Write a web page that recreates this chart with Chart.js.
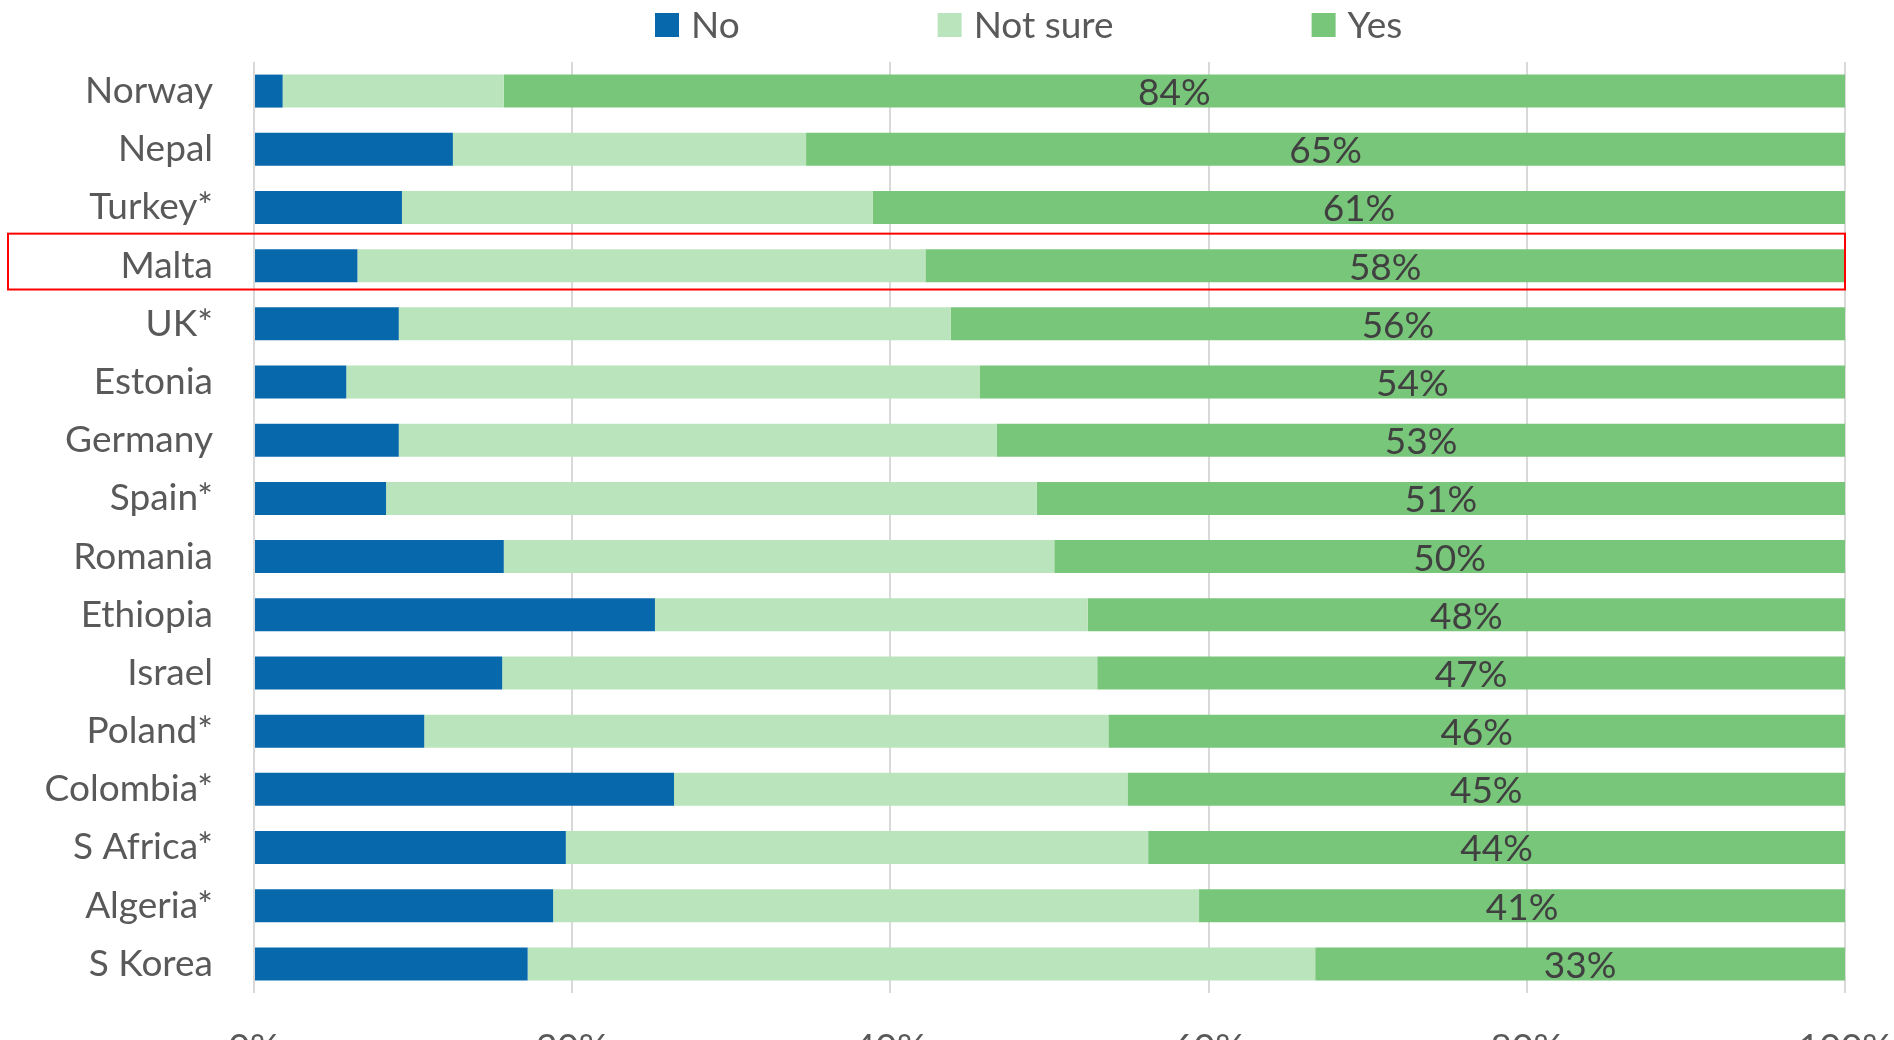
<!DOCTYPE html>
<html><head><meta charset="utf-8">
<script src="https://cdn.jsdelivr.net/npm/chart.js@4.4.0/dist/chart.umd.min.js"></script>
<style>html,body{margin:0;padding:0;overflow:hidden;background:#fff}#wrap{position:relative;width:1894px;height:1080px}</style>
</head><body><div id="wrap"><canvas id="c"></canvas></div>
<script>
const categories = ['Norway','Nepal','Turkey*','Malta','UK*','Estonia','Germany','Spain*','Romania','Ethiopia','Israel','Poland*','Colombia*','S Africa*','Algeria*','S Korea'];
const noValues = [1.8,12.5,9.3,6.5,9.1,5.8,9.1,8.3,15.7,25.2,15.6,10.7,26.4,19.6,18.8,17.2];
const notSureValues = [13.9,22.2,29.6,35.7,34.7,39.8,37.6,40.9,34.6,27.2,37.4,43.0,28.5,36.6,40.6,49.5];
const yesValues = [84.3,65.3,61.1,57.8,56.2,54.4,53.3,50.8,49.7,47.6,47.0,46.3,45.1,43.8,40.6,33.3];
const seriesNames = ['No','Not sure','Yes'];
const seriesColors = ['#0868ac','#bae4bc','#78c679'];
const xTicks = [0,20,40,60,80,100];
const highlighted = 'Malta';

const FONT = 'Lato';
const overlay = {
  id: 'overlay',
  afterDatasetsDraw(chart) {
    const ctx = chart.ctx;
    ctx.save();
    const meta = chart.getDatasetMeta(2);
    ctx.font = '37px ' + FONT;
    ctx.fillStyle = '#404040';
    ctx.textAlign = 'center';
    ctx.textBaseline = 'middle';
    meta.data.forEach((bar, i) => {
      ctx.fillText(Math.round(yesValues[i]) + '%', (bar.x + bar.base) / 2, bar.y + 2);
    });
    const ys = chart.scales.y, xs = chart.scales.x;
    const idx = categories.indexOf(highlighted);
    const yc = ys.getPixelForValue(idx);
    const band = ys.getPixelForValue(1) - ys.getPixelForValue(0);
    ctx.strokeStyle = '#ff0000';
    ctx.lineWidth = 2;
    ctx.strokeRect(8, yc - 0.55 * band, xs.getPixelForValue(100) - 8, 0.96 * band);
    ctx.font = '37px ' + FONT;
    ctx.textAlign = 'left';
    ctx.textBaseline = 'middle';
    let x = 655;
    seriesNames.forEach((name, i) => {
      ctx.fillStyle = seriesColors[i];
      ctx.fillRect(x, 13, 24, 24);
      ctx.fillStyle = '#595959';
      ctx.fillText(name, x + 36, 26);
      x += 36 + ctx.measureText(name).width + 198;
    });
    ctx.restore();
  }
};

const mk = (label, data, color) => ({
  label, data, backgroundColor: color, borderWidth: 0,
  barPercentage: 0.567, categoryPercentage: 1.0
});

new Chart(document.getElementById('c'), {
  type: 'bar',
  data: {
    labels: categories,
    datasets: [
      mk(seriesNames[0], noValues, seriesColors[0]),
      mk(seriesNames[1], notSureValues, seriesColors[1]),
      mk(seriesNames[2], yesValues, seriesColors[2])
    ]
  },
  options: {
    indexAxis: 'y',
    responsive: true,
    maintainAspectRatio: false,
    animation: false,
    layout: { padding: { top: 62, right: 49, left: 0, bottom: 0 } },
    plugins: { legend: { display: false }, tooltip: { enabled: false } },
    scales: {
      x: {
        type: 'linear', stacked: true, min: 0, max: 100,
        afterBuildTicks: s => { s.ticks = xTicks.map(v => ({ value: v })); },
        afterFit: s => { s.height = 87; s.paddingRight = 0; s.paddingLeft = 0; },
        ticks: { callback: v => v + '%', font: { family: FONT, size: 37 }, color: '#595959', padding: 33, maxRotation: 0 },
        grid: { color: '#d9d9d9', lineWidth: 2, drawTicks: false },
        border: { display: false }
      },
      y: {
        type: 'category', stacked: true,
        afterFit: s => { s.width = 254; s.paddingTop = 0; s.paddingBottom = 0; },
        ticks: { font: { family: FONT, size: 37 }, color: '#595959', padding: 41 },
        grid: { display: false, drawTicks: false },
        border: { display: false }
      }
    }
  },
  plugins: [overlay]
});
</script>
</body></html>
